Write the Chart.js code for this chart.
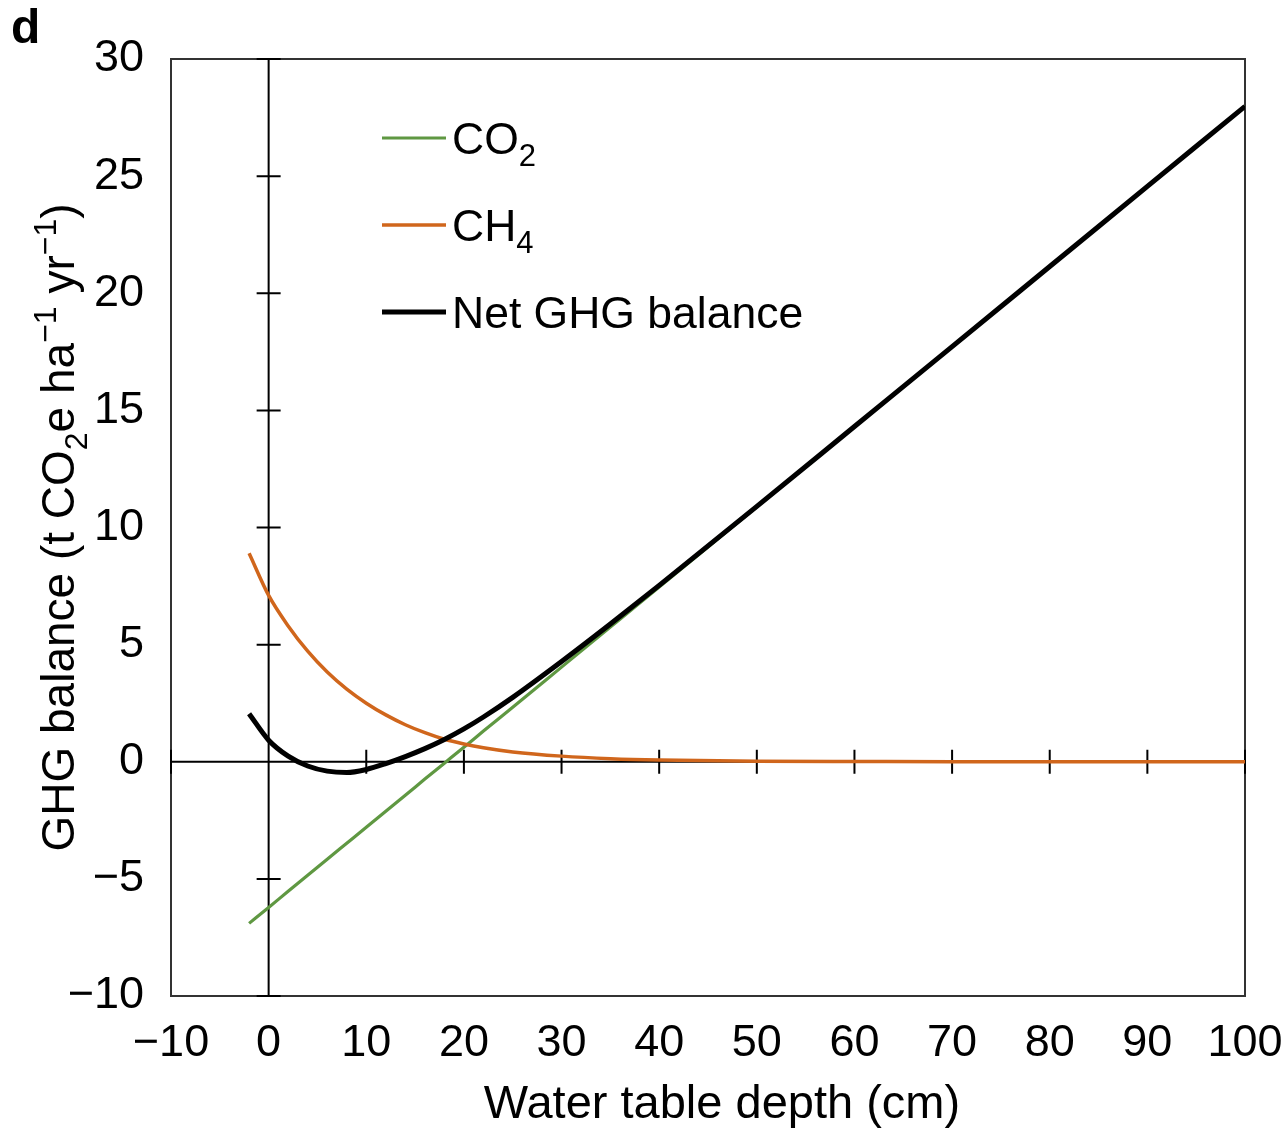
<!DOCTYPE html>
<html lang="en">

<head>
    <meta charset="UTF-8">
    <title>GHG balance vs water table depth</title>
    <script src="https://cdn.jsdelivr.net/npm/chart.js"></script>
</head>
<style>
    body {
        margin: 0;
        background-color: #ffffff;
    }

    canvas {
        display: block;
    }
</style>

<body>
    <canvas id="chart" width="1281" height="1128"></canvas>

    <script>
        // water table depth (cm) and the three curves
        const depth = [-2, 0, 2, 4, 6, 8, 10, 12, 14, 16, 18, 20, 22, 25, 30, 35, 40, 50, 60, 70, 80, 90, 100];
        const co2 = [-6.9, -6.22, -5.53, -4.85, -4.16, -3.48, -2.8, -2.11, -1.43, -0.74, -0.06, 0.62, 1.31, 2.33, 4.04, 5.75, 7.46, 10.88, 14.3, 17.72, 21.14, 24.56, 27.98];
        const ch4 = [8.9, 7.1, 5.8, 4.72, 3.83, 3.1, 2.5, 2.0, 1.58, 1.24, 0.96, 0.76, 0.6, 0.42, 0.24, 0.13, 0.07, 0.02, 0.01, 0, 0, 0, 0];
        const net = [2.05, 0.92, 0.24, -0.18, -0.4, -0.46, -0.33, -0.08, 0.22, 0.56, 0.95, 1.4, 1.91, 2.75, 4.28, 5.88, 7.53, 10.9, 14.31, 17.72, 21.14, 24.56, 27.98];

        const seriesNames = ['CO₂', 'CH₄', 'Net GHG balance'];
        const xTicks = [-10, 0, 10, 20, 30, 40, 50, 60, 70, 80, 90, 100];
        const yTicks = [-10, -5, 0, 5, 10, 15, 20, 25, 30];
        const xTitle = 'Water table depth (cm)';
        const yTitle = 'GHG balance (t CO₂e ha⁻¹ yr⁻¹)';
        const panelLabel = 'd';

        const FONT = '"Liberation Sans", Arial, sans-serif';
        const GREEN = '#5f9842';
        const ORANGE = '#d0661c';

        const pts = ys => depth.map((d, i) => ({ x: d, y: ys[i] }));
        const minus = v => String(v).replace('-', '\u2212');

        const SUB = '₀₁₂₃₄₅₆₇₈₉';
        const SUP = { '⁻': '\u2212', '¹': '1', '²': '2', '³': '3' };

        // split text so unicode sub/superscripts are drawn as smaller shifted glyphs
        function richParts(text) {
            const parts = [];
            for (const ch of text) {
                let kind = 'n', c = ch;
                if (SUB.includes(ch)) { kind = 'sub'; c = String(SUB.indexOf(ch)); }
                else if (SUP[ch]) { kind = 'sup'; c = SUP[ch]; }
                const last = parts[parts.length - 1];
                if (last && last.kind === kind) last.text += c;
                else parts.push({ kind, text: c });
            }
            return parts;
        }

        function richWidth(ctx, text, size) {
            let w = 0;
            richParts(text).forEach(p => {
                ctx.font = (p.kind === 'n' ? size : Math.round(size * 0.7)) + 'px ' + FONT;
                w += ctx.measureText(p.text).width;
            });
            return w;
        }

        function drawRich(ctx, text, x, y, size) {
            ctx.textAlign = 'left';
            ctx.textBaseline = 'alphabetic';
            richParts(text).forEach(p => {
                const s = p.kind === 'n' ? size : Math.round(size * 0.7);
                ctx.font = s + 'px ' + FONT;
                const dy = p.kind === 'sub' ? size * 0.28 : p.kind === 'sup' ? -size * 0.4 : 0;
                ctx.fillText(p.text, x, y + dy);
                x += ctx.measureText(p.text).width;
            });
        }

        const framePlugin = {
            id: 'frame',
            beforeDatasetsDraw(chart) {
                const { ctx, chartArea: a, scales: { x, y } } = chart;
                const x0 = x.getPixelForValue(0);
                const y0 = y.getPixelForValue(0);
                ctx.save();
                ctx.strokeStyle = '#333';
                ctx.lineWidth = 2;
                ctx.strokeRect(a.left, a.top, a.width, a.height);

                ctx.strokeStyle = '#000';
                ctx.lineWidth = 2;
                ctx.beginPath();
                ctx.moveTo(x0, a.top);
                ctx.lineTo(x0, a.bottom);
                ctx.moveTo(a.left, y0);
                ctx.lineTo(a.right, y0);
                yTicks.forEach(v => {
                    const p = y.getPixelForValue(v);
                    ctx.moveTo(x0 - 12, p);
                    ctx.lineTo(x0 + 12, p);
                });
                xTicks.forEach(v => {
                    if (v === 0) return;
                    const p = x.getPixelForValue(v);
                    ctx.moveTo(p, y0 - 12);
                    ctx.lineTo(p, y0 + 12);
                });
                ctx.stroke();
                ctx.restore();
            },
            afterDraw(chart) {
                const { ctx, chartArea: a } = chart;
                ctx.save();
                ctx.fillStyle = '#000';

                // legend
                chart.data.datasets.slice().sort((p, q) => p.legendRank - q.legendRank).forEach((ds, i) => {
                    const ly = 138 + i * 87;
                    ctx.strokeStyle = ds.borderColor;
                    ctx.lineWidth = ds.borderWidth;
                    ctx.beginPath();
                    ctx.moveTo(382, ly);
                    ctx.lineTo(446, ly);
                    ctx.stroke();
                    drawRich(ctx, ds.label, 452, ly + 16, 44.5);
                });

                // x title
                const xs = 47;
                const xw = richWidth(ctx, xTitle, xs);
                drawRich(ctx, xTitle, 722 - xw / 2, 1118, xs);

                // y title
                const ys = 46;
                const yw = richWidth(ctx, yTitle, ys);
                ctx.save();
                ctx.translate(74, (a.top + a.bottom) / 2);
                ctx.rotate(-Math.PI / 2);
                drawRich(ctx, yTitle, -yw / 2, 0, ys);
                ctx.restore();

                // panel letter
                ctx.font = 'bold 48px ' + FONT;
                ctx.textAlign = 'left';
                ctx.textBaseline = 'alphabetic';
                ctx.fillText(panelLabel, 11, 43);
                ctx.restore();
            }
        };

        const tickFont = { family: FONT, size: 45 };

        new Chart(document.getElementById('chart'), {
            type: 'scatter',
            data: {
                datasets: [{
                    label: seriesNames[2],
                    data: pts(net),
                    borderColor: '#000000',
                    borderWidth: 5,
                    order: 1,
                    legendRank: 2
                }, {
                    label: seriesNames[1],
                    data: pts(ch4),
                    borderColor: ORANGE,
                    borderWidth: 3.5,
                    order: 2,
                    legendRank: 1
                }, {
                    label: seriesNames[0],
                    data: pts(co2),
                    borderColor: GREEN,
                    borderWidth: 3.2,
                    order: 3,
                    legendRank: 0
                }].map(ds => Object.assign(ds, {
                    showLine: true,
                    pointRadius: 0,
                    cubicInterpolationMode: 'monotone',
                    borderCapStyle: 'butt',
                    fill: false
                }))
            },
            options: {
                responsive: false,
                animation: false,
                layout: { padding: { top: 59, right: 36, left: 0, bottom: 0 } },
                plugins: {
                    legend: { display: false },
                    tooltip: { enabled: false }
                },
                scales: {
                    x: {
                        type: 'linear',
                        min: -10,
                        max: 100,
                        afterBuildTicks: s => { s.ticks = xTicks.map(v => ({ value: v })); },
                        afterFit: s => { s.height = 132; s.paddingLeft = 0; s.paddingRight = 0; },
                        grid: { display: false, drawTicks: false },
                        border: { display: false },
                        ticks: {
                            font: tickFont,
                            color: '#000',
                            padding: 21,
                            maxRotation: 0,
                            autoSkip: false,
                            callback: v => minus(v)
                        }
                    },
                    y: {
                        type: 'linear',
                        min: -10,
                        max: 30,
                        afterBuildTicks: s => { s.ticks = yTicks.map(v => ({ value: v })); },
                        afterFit: s => { s.width = 171; s.paddingTop = 0; s.paddingBottom = 0; },
                        grid: { display: false, drawTicks: false },
                        border: { display: false },
                        ticks: {
                            font: tickFont,
                            color: '#000',
                            padding: 27,
                            autoSkip: false,
                            callback: v => minus(v)
                        }
                    }
                }
            },
            plugins: [framePlugin]
        });
    </script>
</body>

</html>
